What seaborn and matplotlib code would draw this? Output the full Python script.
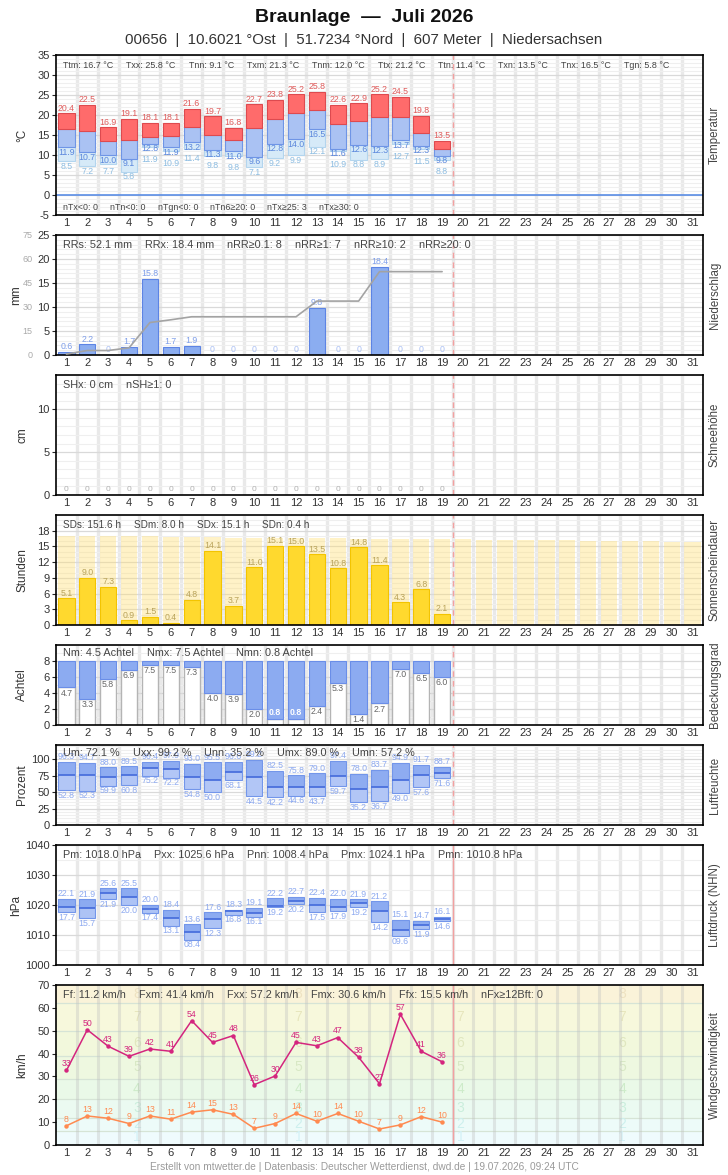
import numpy as np
import seaborn as sns
import matplotlib
matplotlib.use("Agg")
import matplotlib.pyplot as plt
from matplotlib import transforms
from matplotlib.ticker import FixedLocator, MultipleLocator, NullLocator

# ------------------------------------------------------------------------------
# data (Braunlage, Juli 2026, days 1..19 measured)
# ------------------------------------------------------------------------------
DAYS_ALL = list(range(1, 32))
DAYS = list(range(1, 20))

TX = [20.4, 22.5, 16.9, 19.1, 18.1, 18.1, 21.6, 19.7, 16.8, 22.7, 23.8, 25.2, 25.8, 22.6, 22.9, 25.2, 24.5, 19.8, 13.5]
TM = [16.5, 15.9, 13.5, 13.7, 14.4, 14.7, 16.9, 15.0, 13.7, 16.7, 18.9, 20.4, 21.2, 17.7, 18.5, 19.4, 19.4, 15.4, 11.4]
TN = [11.9, 10.7, 10.0, 9.1, 12.8, 11.9, 13.2, 11.3, 11.0, 9.6, 12.8, 14.0, 16.5, 11.6, 12.6, 12.3, 13.7, 12.3, 9.8]
TGN = [8.5, 7.2, 7.7, 5.8, 11.9, 10.9, 11.4, 9.8, 9.8, 7.1, 9.2, 9.9, 12.1, 10.9, 8.8, 8.9, 12.7, 11.5, 8.8]
TEMP_STATS = ["Ttm: 16.7 °C", "Txx: 25.8 °C", "Tnn: 9.1 °C", "Txm: 21.3 °C", "Tnm: 12.0 °C",
              "Ttx: 21.2 °C", "Ttn: 11.4 °C", "Txn: 13.5 °C", "Tnx: 16.5 °C", "Tgn: 5.8 °C"]
TEMP_COUNTS = ["nTx<0: 0", "nTn<0: 0", "nTgn<0: 0", "nTn6≥20: 0", "nTx≥25: 3", "nTx≥30: 0"]

RR = [0.6, 2.2, 0, 1.7, 15.8, 1.7, 1.9, 0, 0, 0, 0, 0, 9.8, 0, 0, 18.4, 0, 0, 0]
RR_STATS = ["RRs: 52.1 mm", "RRx: 18.4 mm", "nRR≥0.1: 8", "nRR≥1: 7", "nRR≥10: 2", "nRR≥20: 0"]

SH = [0, 0, 0, 0, 0, 0, 0, 0, 0, 0, 0, 0, 0, 0, 0, 0, 0, 0, 0]
SH_STATS = ["SHx: 0 cm", "nSH≥1: 0"]

SD = [5.1, 9.0, 7.3, 0.9, 1.5, 0.4, 4.8, 14.1, 3.7, 11.0, 15.1, 15.0, 13.5, 10.8, 14.8, 11.4, 4.3, 6.8, 2.1]
SD_MAX = [17.0, 17.0, 16.9, 16.9, 16.9, 16.8, 16.8, 16.8, 16.7, 16.7, 16.7, 16.6, 16.6, 16.6, 16.5, 16.5,
          16.5, 16.4, 16.4, 16.4, 16.3, 16.3, 16.2, 16.2, 16.2, 16.1, 16.1, 16.0, 16.0, 15.9, 15.9]
SD_STATS = ["SDs: 151.6 h", "SDm: 8.0 h", "SDx: 15.1 h", "SDn: 0.4 h"]

NN = [4.7, 3.3, 5.8, 6.9, 7.5, 7.5, 7.3, 4.0, 3.9, 2.0, 0.8, 0.8, 2.4, 5.3, 1.4, 2.7, 7.0, 6.5, 6.0]
NN_STATS = ["Nm: 4.5 Achtel", "Nmx: 7.5 Achtel", "Nmn: 0.8 Achtel"]

UX = [96.3, 94.7, 88.0, 89.5, 96.4, 97.9, 93.0, 95.5, 96.6, 99.2, 82.5, 75.8, 79.0, 97.4, 78.0, 83.7, 94.9, 91.7, 88.7]
UM = [75.6, 75.6, 73.1, 75.6, 86.3, 84.8, 72.6, 68.0, 80.2, 72.6, 57.4, 57.4, 57.4, 74.1, 55.3, 57.4, 68.0, 75.6, 78.7]
UN = [52.8, 52.3, 59.9, 60.8, 75.2, 72.2, 54.8, 50.0, 68.1, 44.5, 42.2, 44.6, 43.7, 59.7, 35.2, 36.7, 49.0, 57.6, 71.6]
U_STATS = ["Um: 72.1 %", "Uxx: 99.2 %", "Unn: 35.2 %", "Umx: 89.0 %", "Umn: 57.2 %"]

PX = [1022.1, 1021.9, 1025.6, 1025.5, 1020.0, 1018.4, 1013.6, 1017.6, 1018.3, 1019.1, 1022.2, 1022.7, 1022.4,
      1022.0, 1021.9, 1021.2, 1015.1, 1014.7, 1016.1]
PM = [1019.4, 1019.0, 1024.1, 1022.7, 1018.7, 1015.6, 1010.9, 1015.3, 1018.0, 1017.3, 1019.6, 1021.3, 1020.1,
      1019.4, 1020.8, 1018.1, 1011.7, 1013.3, 1015.3]
PN = [1017.7, 1015.7, 1021.9, 1020.0, 1017.4, 1013.1, 1008.4, 1012.3, 1016.8, 1016.1, 1019.2, 1020.2, 1017.5,
      1017.9, 1019.2, 1014.2, 1009.6, 1011.9, 1014.6]
P_STATS = ["Pm: 1018.0 hPa", "Pxx: 1025.6 hPa", "Pnn: 1008.4 hPa", "Pmx: 1024.1 hPa", "Pmn: 1010.8 hPa"]

FX = [32.6, 50.4, 43.2, 38.8, 42.0, 41.0, 54.4, 44.9, 47.9, 26.4, 30.2, 44.9, 43.4, 47.0, 38.4, 26.8, 57.2, 41.0, 36.4]
FF = [8.4, 12.7, 11.7, 9.4, 12.7, 11.3, 14.4, 15.4, 13.4, 7.3, 9.4, 13.8, 10.4, 13.8, 10.4, 7.0, 8.8, 12.4, 10.0]
F_STATS = ["Ff: 11.2 km/h", "Fxm: 41.4 km/h", "Fxx: 57.2 km/h", "Fmx: 30.6 km/h", "Ffx: 15.5 km/h", "nFx≥12Bft: 0"]

BFT_LO = [0, 6, 12, 20, 29, 39, 50, 62]
BFT_HI = [6, 12, 20, 29, 39, 50, 62, 70]
BFT_FILL = ["#effbfd", "#edfbf9", "#ebfaf1", "#eaf9e8", "#eef8e0", "#f2f8dc", "#f7f8dc", "#faf3d9"]
BFT_TEXT = ["#d3f1f6", "#cdf0ee", "#caeedc", "#cdebc9", "#d8e8c5", "#e0e7bf", "#e7e6bd", "#eee2c1"]

TITLE = "Braunlage  —  Juli 2026"
SUBTITLE = "00656  |  10.6021 °Ost  |  51.7234 °Nord  |  607 Meter  |  Niedersachsen"
FOOTER = "Erstellt von mtwetter.de | Datenbasis: Deutscher Wetterdienst, dwd.de | 19.07.2026, 09:24 UTC"

# ------------------------------------------------------------------------------
# layout helpers
# ------------------------------------------------------------------------------
sns.set_theme(style="white")
plt.rcParams["font.family"] = ["Liberation Sans", "DejaVu Sans"]
plt.rcParams["axes.unicode_minus"] = False

W, H = 728, 1175
L, R = 56, 703
BAR_W = 0.78
TXT = "#333333"

fig = plt.figure(figsize=(W / 100, H / 100), dpi=100)
renderer = fig.canvas.get_renderer()


def add_panel(top, bottom):
    return fig.add_axes([L / W, 1 - bottom / H, (R - L) / W, (bottom - top) / H])


def style_panel(ax, ylim, yticks, minor, ylabel, rlabel, ylabel_px=22, today_ls=(0, (4, 3)), ygrid=True):
    ax.set_xlim(0.5, 31.5)
    ax.set_ylim(*ylim)
    ax.set_xticks(DAYS_ALL, [str(d) for d in DAYS_ALL])
    ax.xaxis.set_minor_locator(FixedLocator(np.arange(1.5, 31, 1.0)))
    ax.set_yticks(list(yticks))
    ax.yaxis.set_minor_locator(MultipleLocator(minor) if minor else NullLocator())
    ax.set_axisbelow(True)
    if ygrid:
        ax.grid(which="major", axis="y", color="#d9d9d9", lw=0.9)
    if minor:
        ax.grid(which="minor", axis="y", color="#efefef", lw=0.8)
    ax.grid(which="minor", axis="x", color="#e6e6e6", lw=2.4, alpha=0.85)
    ax.tick_params(axis="x", which="both", length=0, pad=2.5, labelsize=8, labelcolor=TXT)
    ax.tick_params(axis="y", which="major", left=True, length=3, width=0.8, pad=1.5,
                   labelsize=8, labelcolor=TXT)
    ax.tick_params(axis="y", which="minor", length=0)
    for sp in ax.spines.values():
        sp.set_color("black")
        sp.set_linewidth(1.2)
    ax.axvline(19.5, color="#f3a0a0", lw=1, ls=today_ls, zorder=0.9)
    ax.set_xlabel("")
    ax.set_ylabel("")
    ax.text((ylabel_px - L) / (R - L), 0.5, ylabel, rotation=90, ha="center", va="center",
            fontsize=8.5, color=TXT, transform=ax.transAxes)
    ax.text((715 - L) / (R - L), 0.5, rlabel, rotation=90, ha="center", va="center",
            fontsize=8.3, color="#444444", transform=ax.transAxes)


def stats_row(items, y_px, size=7.8, gap=13):
    x = L + 7
    for s in items:
        t = fig.text(x / W, 1 - y_px / H, s, fontsize=size, color="#444444", ha="left", va="center")
        x = t.get_window_extent(renderer).x1 + gap


def label(ax, x, y, s, color, dy, va, size=6.3, **kw):
    ax.annotate(s, (x, y), xytext=(0, dy), textcoords="offset points", ha="center", va=va,
                fontsize=size, color=color, zorder=5, **kw)


days = np.array(DAYS)

# ------------------------------------------------------------------------------
# Temperatur
# ------------------------------------------------------------------------------
ax = add_panel(55, 215)
tx, tm, tn, tg = (np.array(a) for a in (TX, TM, TN, TGN))
ax.bar(days, tn - tg, bottom=tg, width=BAR_W, color="#d6eaf8", edgecolor="#b3d5ee", lw=0.8)
ax.bar(days, tm - tn, bottom=tn, width=BAR_W, color="#aac2f3", edgecolor="#6f95e6", lw=0.8)
ax.bar(days, tx - tm, bottom=tm, width=BAR_W, color="#ff6b6b", edgecolor="#de4a4f", lw=0.8)
ax.axhline(0, color="#5b8ee6", lw=1.2, zorder=1.5)
pt_per_deg = (160 / 40) * 0.72   # panel height px / range -> points per °C
for d, a, b, c in zip(DAYS, TX, TN, TGN):
    label(ax, d, a, f"{a:.1f}", "#e05c5c", 0.5, "bottom")
    label(ax, d, b, f"{b:.1f}", "#5a86dc", -0.5, "top")
    # stack the ground-minimum label under the Tn label when they are close
    push = max(0.0, 7.8 - (b - c) * pt_per_deg)
    label(ax, d, c, f"{c:.1f}", "#8dbde2", -0.5 - push, "top")
style_panel(ax, (-5, 35), range(-5, 36, 5), 1, "°C", "Temperatur")
stats_row(TEMP_STATS, 65, size=6.4)
stats_row(TEMP_COUNTS, 208, size=6.4, gap=12)

# ------------------------------------------------------------------------------
# Niederschlag
# ------------------------------------------------------------------------------
ax = add_panel(235, 355)
sns.barplot(x=DAYS, y=RR, native_scale=True, width=BAR_W, color="#8badf0", edgecolor="#5d84e4",
            linewidth=0.8, saturation=1, errorbar=None, ax=ax)
for d, v in zip(DAYS, RR):
    if v:
        label(ax, d, v, f"{v:.1f}", "#7e9ee9", 0.5, "bottom")
    else:
        label(ax, d, v, "0", "#a9bff3", 0.5, "bottom")
style_panel(ax, (0, 25), range(0, 26, 5), 1, "mm", "Niederschlag", ylabel_px=16)
ax2 = ax.twinx()
sns.lineplot(x=DAYS, y=np.cumsum(RR), color="#a3a3a3", lw=1.2, ax=ax2)
ax2.set_xlim(0.5, 31.5)
ax2.set_ylim(0, 75)
ax2.set_yticks(range(0, 76, 15))
ax2.yaxis.tick_left()
ax2.tick_params(axis="y", length=0, pad=17, labelsize=6.5, labelcolor="#aaaaaa")
ax2.set_ylabel("")
ax2.grid(False)
for sp in ax2.spines.values():
    sp.set_visible(False)
stats_row(RR_STATS, 245)

# ------------------------------------------------------------------------------
# Schneehöhe
# ------------------------------------------------------------------------------
ax = add_panel(375, 495)
sns.barplot(x=DAYS, y=SH, native_scale=True, width=BAR_W, color="#cfd8e8", saturation=1,
            errorbar=None, ax=ax)
for d, v in zip(DAYS, SH):
    label(ax, d, v, f"{v:g}", "#b0b0b0", 1.5, "bottom", size=6)
style_panel(ax, (0, 14), [0, 5, 10], 1, "cm", "Schneehöhe")
stats_row(SH_STATS, 385)

# ------------------------------------------------------------------------------
# Sonnenscheindauer
# ------------------------------------------------------------------------------
ax = add_panel(515, 625)
sns.barplot(x=DAYS_ALL, y=SD_MAX, native_scale=True, width=BAR_W, color="#ffe07a", alpha=0.42,
            linewidth=0, saturation=1, errorbar=None, ax=ax)
sns.barplot(x=DAYS, y=SD, native_scale=True, width=BAR_W, color="#ffd92e", edgecolor="#f3c400",
            linewidth=0.8, saturation=1, errorbar=None, ax=ax)
for d, v in zip(DAYS, SD):
    label(ax, d, v, f"{v:.1f}", "#b9a35a", 0.5, "bottom")
style_panel(ax, (0, 21), range(0, 19, 3), 1, "Stunden", "Sonnenscheindauer")
stats_row(SD_STATS, 525, size=7.2)

# ------------------------------------------------------------------------------
# Bedeckungsgrad
# ------------------------------------------------------------------------------
ax = add_panel(645, 725)
nn = np.array(NN)
ax.bar(days, nn, width=BAR_W, color="white", edgecolor="#b4b4b4", lw=1)
ax.bar(days, 8 - nn, bottom=nn, width=BAR_W, color="#8cabf1", edgecolor="#6a8ee8", lw=0.8)
for d, v in zip(DAYS, NN):
    if v >= 1:
        label(ax, d, v, f"{v:.1f}", "#666666", -1, "top")
    else:
        label(ax, d, v, f"{v:.1f}", "white", 1, "bottom", fontweight="bold")
style_panel(ax, (0, 10), range(0, 9, 2), 1, "Achtel", "Bedeckungsgrad")
stats_row(NN_STATS, 653)

# ------------------------------------------------------------------------------
# Luftfeuchte
# ------------------------------------------------------------------------------
ax = add_panel(745, 825)
ux, um, un = (np.array(a) for a in (UX, UM, UN))
ax.bar(days, um - un, bottom=un, width=BAR_W, color="#b2c6f6", lw=0)
ax.bar(days, ux - um, bottom=um, width=BAR_W, color="#8eacf1", lw=0)
ax.bar(days, ux - un, bottom=un, width=BAR_W, fill=False, edgecolor="#7396ea", lw=0.8)
ax.hlines(um, days - BAR_W / 2, days + BAR_W / 2, color="#4a70dd", lw=1.3)
for d, a, b in zip(DAYS, UX, UN):
    label(ax, d, a, f"{a:.1f}", "#8eaaf0", 0.5, "bottom")
    label(ax, d, b, f"{b:.1f}", "#8eaaf0", -0.5, "top")
style_panel(ax, (0, 122), range(0, 101, 25), 5, "Prozent", "Luftfeuchte")
stats_row(U_STATS, 753)

# ------------------------------------------------------------------------------
# Luftdruck
# ------------------------------------------------------------------------------
ax = add_panel(845, 965)
px, pm, pn = (np.array(a) for a in (PX, PM, PN))
ax.bar(days, pm - pn, bottom=pn, width=BAR_W, color="#adc3f5", lw=0)
ax.bar(days, px - pm, bottom=pm, width=BAR_W, color="#8cabf1", lw=0)
ax.bar(days, px - pn, bottom=pn, width=BAR_W, fill=False, edgecolor="#7396ea", lw=0.8)
ax.hlines(pm, days - BAR_W / 2, days + BAR_W / 2, color="#4a70dd", lw=1.3)
for d, a, b in zip(DAYS, PX, PN):
    label(ax, d, a, f"{a - 1000:04.1f}", "#8eaaf0", 0.5, "bottom")
    label(ax, d, b, f"{b - 1000:04.1f}", "#8eaaf0", -0.5, "top")
style_panel(ax, (1000, 1040), range(1000, 1041, 10), 5, "hPa", "Luftdruck (NHN)",
            ylabel_px=16, today_ls="-")
stats_row(P_STATS, 855)

# ------------------------------------------------------------------------------
# Windgeschwindigkeit
# ------------------------------------------------------------------------------
ax = add_panel(985, 1145)
blend = transforms.blended_transform_factory(ax.transAxes, ax.transData)
for lo, hi, fc, tc, k in zip(BFT_LO, BFT_HI, BFT_FILL, BFT_TEXT, range(1, 9)):
    ax.axhspan(lo, hi, color=fc, lw=0, zorder=0.1)
    if lo > 0:
        ax.axhline(lo, color="#d6e4d6", lw=0.9, zorder=0.3)
    for fx in (0.125, 0.375, 0.625, 0.875):
        ax.text(fx, (max(lo, 1) + hi) / 2, str(k), transform=blend, ha="center", va="center",
                fontsize=10, color=tc, zorder=0.4)
sns.lineplot(x=DAYS, y=FX, color="#d4257e", lw=1.1, marker="o", markersize=3.2,
             markeredgewidth=0, ax=ax)
sns.lineplot(x=DAYS, y=FF, color="#ff8a50", lw=1.1, marker="o", markersize=3.2,
             markeredgewidth=0, ax=ax)
for d, a, b in zip(DAYS, FX, FF):
    label(ax, d, a, f"{a:.0f}", "#d4257e", 1.5, "bottom")
    label(ax, d, b, f"{b:.0f}", "#ff8a50", 1.5, "bottom")
style_panel(ax, (0, 70), range(0, 71, 10), None, "km/h", "Windgeschwindigkeit",
            today_ls="-", ygrid=False)
ax.grid(which="minor", axis="x", color="#bdbdbd", lw=2.2, alpha=0.35)
stats_row(F_STATS, 995)

# ------------------------------------------------------------------------------
# titles
# ------------------------------------------------------------------------------
fig.text(0.5, 1 - 18 / H, TITLE, ha="center", va="center", fontsize=14, fontweight="bold", color="#111111")
fig.text(0.5, 1 - 40 / H, SUBTITLE, ha="center", va="center", fontsize=10.8, color="#333333")
fig.text(0.5, 1 - 1167 / H, FOOTER, ha="center", va="center", fontsize=7.3, color="#9a9a9a")

fig.savefig("out.png", dpi=100)
